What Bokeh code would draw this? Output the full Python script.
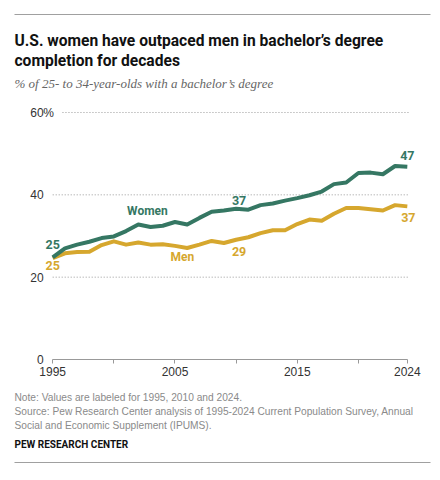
from bokeh.plotting import figure
from bokeh.models import Range1d, FixedTicker, Label, BoxAnnotation
from bokeh.embed import file_html
from bokeh.resources import INLINE

# ---- data ----
years = list(range(1995, 2025))
women = [24.8, 27.0, 27.9, 28.6, 29.5, 29.9, 31.2, 32.8, 32.2, 32.5,
         33.4, 32.8, 34.4, 35.9, 36.2, 36.6, 36.4, 37.5, 37.9, 38.6,
         39.2, 39.9, 40.8, 42.6, 43.0, 45.3, 45.4, 45.0, 47.0, 46.8]
men = [24.6, 25.8, 26.1, 26.2, 27.8, 28.7, 27.9, 28.4, 27.9, 28.0,
       27.6, 27.1, 27.9, 28.8, 28.3, 29.1, 29.7, 30.7, 31.4, 31.4,
       32.9, 34.0, 33.7, 35.4, 36.8, 36.8, 36.5, 36.2, 37.5, 37.2]
x_ticks = [1995, 2000, 2005, 2010, 2015, 2020, 2024]
x_labels = {1995: "1995", 2000: "", 2005: "2005", 2010: "", 2015: "2015", 2020: "", 2024: "2024"}
y_ticks = [0, 20, 40, 60]
y_labels = {0: "0", 20: "20", 40: "40", 60: "60"}
grid_ticks = [20, 40, 60]
labeled_years = [1995, 2010, 2024]

title1 = "U.S. women have outpaced men in bachelor\u2019s degree"
title2 = "completion for decades"
subtitle = "% of 25- to 34-year-olds with a bachelor\u2019s degree"
note = "Note: Values are labeled for 1995, 2010 and 2024."
source1 = "Source: Pew Research Center analysis of 1995-2024 Current Population Survey, Annual"
source2 = "Social and Economic Supplement (IPUMS)."
credit = "PEW RESEARCH CENTER"

GREEN = "#357763"
GOLD = "#D6A72E"
W, H = 432, 472

# the frame fills the whole canvas; axes sit at fixed data locations
p = figure(width=W, height=H, output_backend="svg", toolbar_location=None,
           x_range=Range1d(1990.731, 2026.06), y_range=Range1d(-27.45, 87.21),
           min_border=0)
p.outline_line_color = None
p.background_fill_color = "white"
p.border_fill_color = "white"

xa = p.xaxis[0]
xa.fixed_location = 0
xa.ticker = FixedTicker(ticks=x_ticks)
xa.major_label_overrides = x_labels
xa.bounds = (1995, 2024)
xa.axis_line_color = "#999999"
xa.major_tick_line_color = "#999999"
xa.major_tick_in = 0
xa.major_tick_out = 4
xa.minor_tick_line_color = None
xa.major_label_standoff = 3
xa.major_label_text_font = "Liberation Sans"
xa.major_label_text_font_size = "12px"
xa.major_label_text_color = "#333333"

ya = p.yaxis[0]
ya.fixed_location = years[0]
ya.ticker = FixedTicker(ticks=y_ticks)
ya.major_label_overrides = y_labels
ya.bounds = (0, 60)
ya.axis_line_color = None
ya.major_tick_line_color = None
ya.minor_tick_line_color = None
ya.major_tick_in = 0
ya.major_tick_out = 0
ya.major_label_standoff = 9
ya.major_label_text_font = "Liberation Sans"
ya.major_label_text_font_size = "12px"
ya.major_label_text_color = "#333333"

p.grid.visible = False
grid_x0 = [years[0], years[0], years[0] + 0.8]
grid_x1 = [years[-1] + 0.1] * len(grid_ticks)
p.segment(x0=grid_x0, x1=grid_x1, y0=grid_ticks, y1=grid_ticks,
          line_color="#9a9a9a", line_dash="1 2", line_width=1)

p.add_layout(Label(x=years[0], y=y_ticks[-1], x_offset=-9.5, text="%",
                   text_align="left", text_baseline="middle",
                   text_font="Liberation Sans", text_font_size="12px",
                   text_color="#333333"))

p.line(years, men, line_color=GOLD, line_width=4, line_join="round")
p.line(years, women, line_color=GREEN, line_width=4, line_join="round")

w_off = {1995: (0, 13), 2010: (3, 8.5), 2024: (0, 11)}
m_off = {1995: (0, -7), 2010: (3, -11.5), 2024: (1, -11)}
for yr in labeled_years:
    i = years.index(yr)
    dx, dy = w_off[yr]
    p.add_layout(Label(x=years[i], y=women[i], x_offset=dx, y_offset=dy,
                       text=f"{round(women[i])}", text_align="center",
                       text_baseline="middle", text_font="Roboto",
                       text_font_style="bold", text_font_size="12.5px",
                       text_color=GREEN))
    dx, dy = m_off[yr]
    p.add_layout(Label(x=years[i], y=men[i], x_offset=dx, y_offset=dy,
                       text=f"{round(men[i])}", text_align="center",
                       text_baseline="middle", text_font="Roboto",
                       text_font_style="bold", text_font_size="12.5px",
                       text_color=GOLD))

p.add_layout(Label(x=2002.75, y=36.0, text="Women", text_align="center",
                   text_baseline="middle", text_font="Roboto",
                   text_font_style="bold", text_font_size="12px",
                   text_color=GREEN))
p.add_layout(Label(x=2005.6, y=24.8, text="Men", text_align="center",
                   text_baseline="middle", text_font="Roboto",
                   text_font_style="bold", text_font_size="12px",
                   text_color=GOLD))


# ---- header / footer texts, placed in screen pixels (origin bottom-left) ----
def slabel(txt, px, py, size, color, font="Liberation Sans", style="normal"):
    p.add_layout(Label(x=px, y=H - py, x_units="screen", y_units="screen",
                       text=txt, text_align="left", text_baseline="alphabetic",
                       text_font=font, text_font_size=size, text_font_style=style,
                       text_color=color))


def rule(py):
    p.add_layout(BoxAnnotation(left=14, right=430, bottom=H - py - 0.5, top=H - py + 0.5,
                               left_units="screen", right_units="screen",
                               bottom_units="screen", top_units="screen",
                               fill_color="#a0a0a0", fill_alpha=1, line_color=None))


rule(14)
slabel(title1, 14, 40, "15.6px", "#111111", font="Roboto", style="bold")
slabel(title2, 14, 60, "15.6px", "#111111", font="Roboto", style="bold")
slabel(subtitle, 14, 83, "13px", "#666666", font="Liberation Serif", style="italic")
slabel(note, 14, 397, "10.2px", "#8a8a8a")
slabel(source1, 14, 411, "10.2px", "#8a8a8a")
slabel(source2, 14, 425, "10.2px", "#8a8a8a")
slabel(credit, 14, 444, "10px", "#111111", font="Roboto", style="bold")
rule(462)

open("out.html", "w").write(file_html(p, INLINE))
